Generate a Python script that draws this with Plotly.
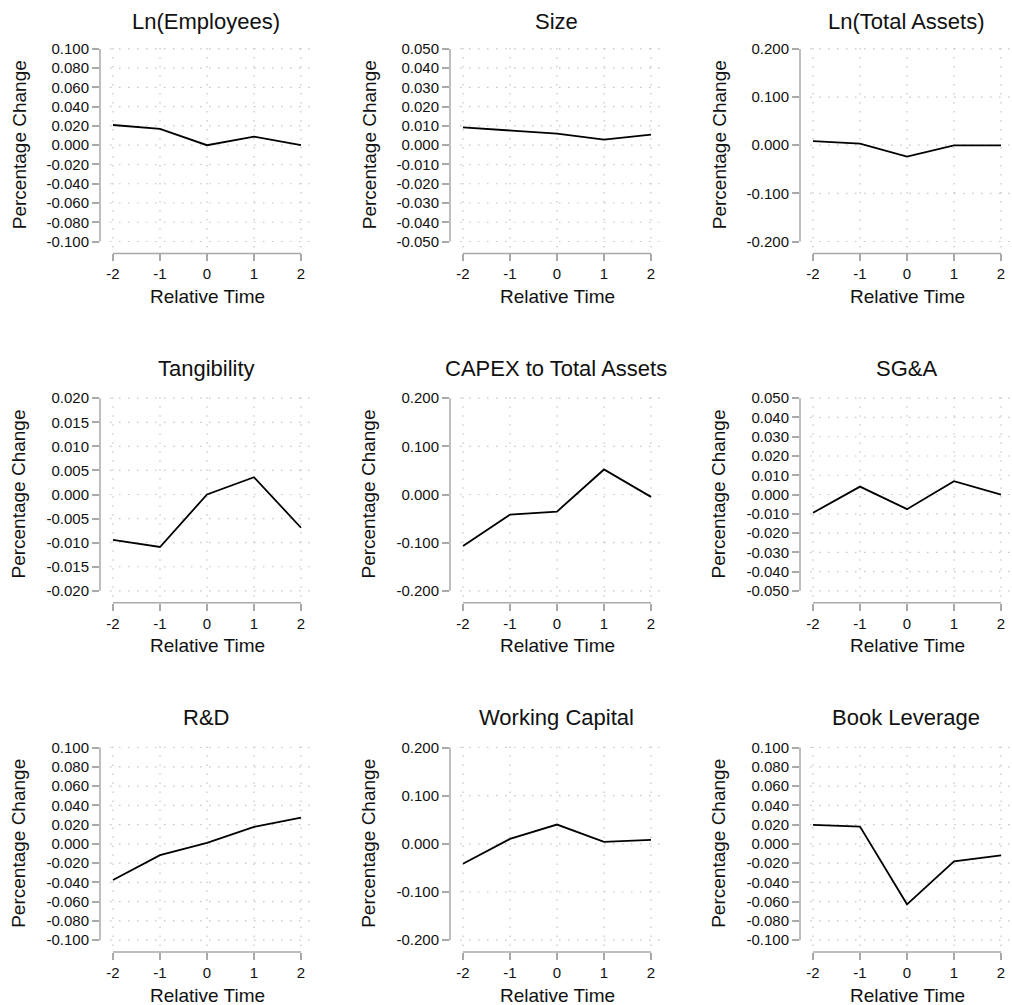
import plotly.graph_objects as go

# Event-study style panels: percentage change by relative time
rel_time = [-2, -1, 0, 1, 2]
x_tick_vals = [-2, -1, 0, 1, 2]
x_tick_text = ["-2", "-1", "0", "1", "2"]

titles = [
    "Ln(Employees)", "Size", "Ln(Total Assets)",
    "Tangibility", "CAPEX to Total Assets", "SG&A",
    "R&D", "Working Capital", "Book Leverage",
]

ln_employees = [0.021, 0.017, 0.000, 0.009, 0.000]
size = [0.0093, 0.0075, 0.0060, 0.0029, 0.0055]
ln_total_assets = [0.0083, 0.0035, -0.0236, -0.0003, -0.0003]
tangibility = [-0.0094, -0.0109, 0.0000, 0.0036, -0.0069]
capex_to_assets = [-0.107, -0.0417, -0.0354, 0.052, -0.0049]
sga = [-0.0095, 0.0041, -0.0076, 0.0069, 0.0000]
rnd = [-0.0376, -0.0117, 0.0010, 0.0176, 0.0272]
working_capital = [-0.0414, 0.0103, 0.0400, 0.0041, 0.0083]
book_leverage = [0.0197, 0.0179, -0.0628, -0.0183, -0.0121]

series = [
    ln_employees, size, ln_total_assets,
    tangibility, capex_to_assets, sga,
    rnd, working_capital, book_leverage,
]

# y tick grid per panel: (low, high, step)
y_ticks = [
    (-0.10, 0.10, 0.02), (-0.05, 0.05, 0.01), (-0.20, 0.20, 0.10),
    (-0.02, 0.02, 0.005), (-0.20, 0.20, 0.10), (-0.05, 0.05, 0.01),
    (-0.10, 0.10, 0.02), (-0.20, 0.20, 0.10), (-0.10, 0.10, 0.02),
]

W, H = 1012, 1005
FONT = "Liberation Sans, Arial, Helvetica, sans-serif"
AXIS_GREY = "#a9a9a9"
GRID_GREY = "#c4c4c4"

# page geometry in pixels
col_left = [100, 450, 800]       # y-axis line
plot_w = 212                     # width of each plot region
x_pad_left = 13                  # gap between y-axis and x=-2
x_span = 188                     # pixels from x=-2 to x=2
row_tick_top = [47, 397, 747]    # pixel of the highest y tick
y_span = 193                     # pixels from lowest to highest y tick
pad_top, pad_bottom = 7, 12
title_px = [20, 367, 717]

x_ppu = x_span / 4.0
x_range = [-2 - x_pad_left / x_ppu, -2 + (plot_w - x_pad_left) / x_ppu]

fig = go.Figure()
annotations = []
shapes = []

for i, (title, vals, (lo, hi, step)) in enumerate(zip(titles, series, y_ticks)):
    r, c = divmod(i, 3)
    n = i + 1
    xa = "x" if n == 1 else f"x{n}"
    ya = "y" if n == 1 else f"y{n}"
    xkey = "xaxis" if n == 1 else f"xaxis{n}"
    ykey = "yaxis" if n == 1 else f"yaxis{n}"

    left = col_left[c]
    top_tick = row_tick_top[r]
    axis_px = top_tick + y_span + pad_bottom
    top_px = top_tick - pad_top

    y_ppu = y_span / (hi - lo)
    y_range = [lo - pad_bottom / y_ppu, hi + pad_top / y_ppu]

    nticks = int(round((hi - lo) / step)) + 1
    tvals = [round(lo + k * step, 6) for k in range(nticks)]
    ttext = [f"{v:.3f}" if abs(v) > 1e-12 else "0.000" for v in tvals]

    fig.add_trace(go.Scatter(
        x=rel_time, y=vals, mode="lines",
        line=dict(color="black", width=1.8),
        xaxis=xa, yaxis=ya, showlegend=False, hoverinfo="skip",
    ))

    fig.layout[xkey] = dict(
        domain=[left / W, (left + plot_w) / W],
        range=x_range, anchor=ya,
        showgrid=False, zeroline=False, showline=False,
        tickmode="array", tickvals=x_tick_vals, ticktext=x_tick_text,
        ticks="outside", ticklen=7, tickwidth=1.5, tickcolor=AXIS_GREY,
        tickfont=dict(family=FONT, size=15, color="#111"),
        fixedrange=True,
    )
    fig.layout[ykey] = dict(
        domain=[1 - axis_px / H, 1 - top_px / H],
        range=y_range, anchor=xa,
        showgrid=False, zeroline=False, showline=False,
        tickmode="array", tickvals=tvals, ticktext=ttext,
        ticks="outside", ticklen=7, tickwidth=1.5, tickcolor=AXIS_GREY,
        tickfont=dict(family=FONT, size=15, color="#111"),
        fixedrange=True,
    )

    # dotted grid
    for v in tvals:
        shapes.append(dict(
            type="line", xref=f"{xa} domain", yref=ya,
            x0=10 / plot_w, x1=1, y0=v, y1=v,
            line=dict(color=GRID_GREY, width=1.2, dash="1.5px,7.5px"),
            layer="below",
        ))
    for v in x_tick_vals:
        shapes.append(dict(
            type="line", xref=xa, yref=f"{ya} domain",
            x0=v, x1=v, y0=6 / (axis_px - top_px), y1=1,
            line=dict(color=GRID_GREY, width=1.2, dash="1.5px,7.5px"),
            layer="below",
        ))

    # axis lines spanning first to last tick
    shapes.append(dict(
        type="line", xref=xa, yref=f"{ya} domain",
        x0=x_tick_vals[0], x1=x_tick_vals[-1], y0=0, y1=0,
        line=dict(color=AXIS_GREY, width=1.5), layer="below",
    ))
    shapes.append(dict(
        type="line", xref=f"{xa} domain", yref=ya,
        x0=0, x1=0, y0=lo, y1=hi,
        line=dict(color=AXIS_GREY, width=1.5), layer="below",
    ))

    # panel title
    annotations.append(dict(
        text=title, xref="paper", yref="paper",
        x=(left + plot_w / 2) / W, y=1 - title_px[r] / H,
        xanchor="center", yanchor="middle", showarrow=False,
        font=dict(family=FONT, size=22, color="#111"),
    ))
    # y-axis title
    annotations.append(dict(
        text="Percentage Change", xref="paper", yref="paper",
        x=(left - 81) / W, y=1 - (top_tick + y_span / 2) / H,
        xanchor="center", yanchor="middle", textangle=-90, showarrow=False,
        font=dict(family=FONT, size=19, color="#111"),
    ))
    # x-axis title
    annotations.append(dict(
        text="Relative Time", xref="paper", yref="paper",
        x=(left + x_pad_left + x_span / 2) / W, y=1 - (axis_px + 43) / H,
        xanchor="center", yanchor="middle", showarrow=False,
        font=dict(family=FONT, size=19, color="#111"),
    ))

fig.update_layout(
    width=W, height=H,
    margin=dict(l=0, r=0, t=0, b=0),
    paper_bgcolor="white", plot_bgcolor="white",
    annotations=annotations, shapes=shapes,
    showlegend=False,
)

fig.write_html("out.html", config={"displayModeBar": False})
